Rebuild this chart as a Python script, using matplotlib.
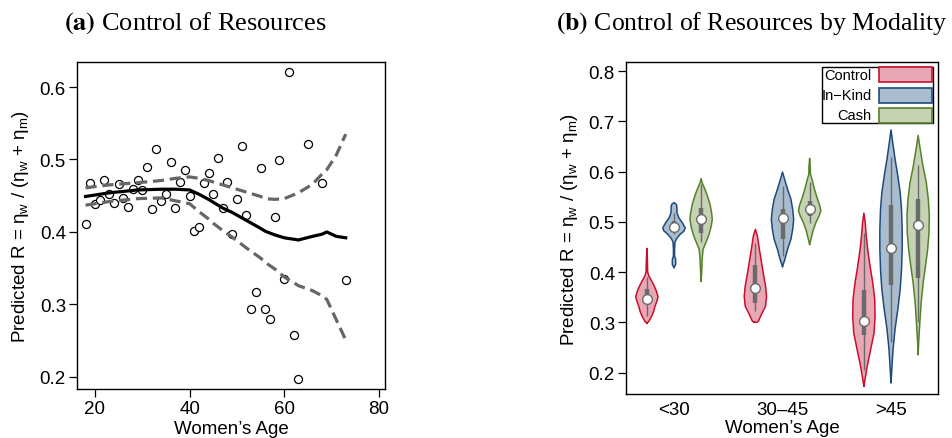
import matplotlib
matplotlib.use("Agg")
import matplotlib.pyplot as plt
from matplotlib.patches import Rectangle
import numpy as np

plt.rcParams['font.family'] = ['Liberation Sans', 'DejaVu Sans']
plt.rcParams['font.size'] = 13.5

# ---- panel (a): scatter of predicted R by women's age ----
ages = [18, 19, 20, 21, 22, 23, 24, 25, 26, 27, 28, 29, 30, 31, 32, 33, 34, 35,
        36, 37, 38, 39, 40, 41, 42, 43, 44, 45, 46, 47, 48, 49, 50, 51, 52, 53,
        54, 55, 56, 57, 58, 59, 60, 61, 62, 63, 65, 68, 73]
pred_r = [0.411, 0.468, 0.439, 0.444, 0.472, 0.453, 0.440, 0.466, 0.447, 0.435,
          0.459, 0.472, 0.458, 0.489, 0.432, 0.514, 0.443, 0.453, 0.497, 0.433,
          0.469, 0.486, 0.450, 0.401, 0.407, 0.468, 0.482, 0.453, 0.502, 0.433,
          0.469, 0.397, 0.445, 0.519, 0.424, 0.294, 0.317, 0.488, 0.294, 0.280,
          0.421, 0.499, 0.335, 0.621, 0.258, 0.197, 0.521, 0.468, 0.334]

# smoothed fit with confidence band
fit_age = [18, 23, 29, 34, 37, 40, 42, 44, 45, 47, 49, 52, 55, 56, 58, 60, 63,
           66, 68, 69, 71, 73]
fit_mid = [0.449, 0.454, 0.458, 0.459, 0.459, 0.458, 0.452, 0.445, 0.441, 0.433,
           0.427, 0.416, 0.405, 0.401, 0.396, 0.392, 0.389, 0.394, 0.397, 0.400,
           0.394, 0.392]
fit_hi = [0.461, 0.465, 0.468, 0.471, 0.474, 0.476, 0.474, 0.471, 0.469, 0.465,
          0.461, 0.455, 0.449, 0.446, 0.445, 0.446, 0.454, 0.466, 0.480, 0.486,
          0.506, 0.535]
fit_lo = [0.437, 0.442, 0.446, 0.447, 0.443, 0.439, 0.428, 0.418, 0.412, 0.402,
          0.393, 0.378, 0.364, 0.358, 0.349, 0.338, 0.326, 0.319, 0.312, 0.307,
          0.279, 0.251]

# ---- panel (b): violins by age group and modality ----
age_groups = ['<30', '30\u201345', '>45']
modalities = ['Control', 'In\u2212Kind', 'Cash']
fill_colors = ['#E8A7B5', '#AABDCE', '#C6D2B4']
edge_colors = ['#C8102E', '#1F4A7D', '#58802C']

# violin outlines: value levels and relative half-widths (one per age group)
control_y = [[0.298, 0.302, 0.312, 0.322, 0.332, 0.343, 0.351, 0.362, 0.372, 0.385, 0.392, 0.400, 0.420, 0.447],
             [0.300, 0.302, 0.316, 0.332, 0.352, 0.372, 0.392, 0.419, 0.445, 0.472, 0.485],
             [0.173, 0.189, 0.213, 0.246, 0.279, 0.312, 0.346, 0.379, 0.412, 0.445, 0.472, 0.498, 0.517]]
control_w = [[0, .18, .43, .61, .73, .91, 1, .85, .66, .36, .18, .07, .05, 0],
             [.12, .27, .55, .91, 1, .91, .75, .55, .36, .18, 0],
             [0, .12, .30, .61, .91, 1, .97, .79, .55, .34, .21, .12, 0]]
inkind_y = [[0.409, 0.415, 0.425, 0.432, 0.445, 0.460, 0.467, 0.475, 0.482, 0.488, 0.498, 0.508, 0.518, 0.532, 0.536, 0.538],
            [0.411, 0.425, 0.445, 0.465, 0.485, 0.505, 0.525, 0.545, 0.565, 0.585, 0.599],
            [0.180, 0.213, 0.246, 0.286, 0.326, 0.365, 0.405, 0.445, 0.485, 0.525, 0.558, 0.591, 0.625, 0.658, 0.683]]
inkind_w = [[0, .15, .15, .05, .05, .09, .25, .55, .91, 1, .75, .43, .27, .25, .15, 0],
            [0, .21, .45, .75, .91, 1, .91, .75, .45, .18, 0],
            [0, .09, .18, .36, .61, .82, .94, 1, 1, .94, .82, .61, .36, .15, 0]]
cash_y = [[0.382, 0.405, 0.425, 0.445, 0.459, 0.475, 0.492, 0.505, 0.518, 0.535, 0.551, 0.565, 0.578, 0.586],
          [0.455, 0.468, 0.482, 0.498, 0.512, 0.522, 0.532, 0.548, 0.565, 0.581, 0.595, 0.610, 0.626],
          [0.236, 0.266, 0.299, 0.339, 0.379, 0.412, 0.445, 0.478, 0.512, 0.545, 0.578, 0.611, 0.645, 0.672]]
cash_w = [[0, .06, .09, .17, .43, .71, .91, 1, .94, .79, .57, .34, .09, 0],
          [0, .15, .30, .55, .85, 1, .91, .66, .43, .25, .07, .06, 0],
          [0, .06, .15, .27, .45, .66, .85, .97, 1, .91, .73, .43, .18, 0]]

# box summaries: quartiles, median, whisker ends
control_q1 = [0.336, 0.339, 0.274]
control_med = [0.347, 0.369, 0.302]
control_q3 = [0.367, 0.413, 0.365]
control_lo = [0.312, 0.323, 0.205]
control_hi = [0.390, 0.458, 0.477]
inkind_q1 = [0.482, 0.465, 0.374]
inkind_med = [0.490, 0.507, 0.448]
inkind_q3 = [0.502, 0.525, 0.533]
inkind_lo = [0.475, 0.432, 0.260]
inkind_hi = [0.518, 0.572, 0.628]
cash_q1 = [0.478, 0.512, 0.389]
cash_med = [0.506, 0.525, 0.493]
cash_q3 = [0.528, 0.541, 0.545]
cash_lo = [0.459, 0.498, 0.300]
cash_hi = [0.576, 0.580, 0.613]

ylab = 'Predicted R = \u03b7$_{\\rm w}$ / (\u03b7$_{\\rm w}$ + \u03b7$_{\\rm m}$)'
plt.rcParams['mathtext.fontset'] = 'custom'
plt.rcParams['mathtext.rm'] = 'Liberation Sans'

fig = plt.figure(figsize=(9.52, 4.39), dpi=100)
ax1 = fig.add_axes([0.0809, 0.1116, 0.3235, 0.7449])
ax2 = fig.add_axes([0.6576, 0.1002, 0.3277, 0.7563])

for ax in (ax1, ax2):
    for s in ax.spines.values():
        s.set_linewidth(1.0)
    ax.tick_params(direction='out', length=6, width=0.9, pad=2)

# panel (a)
ax1.plot(ages, pred_r, 'o', ms=5.8, mfc='white', mec='black', mew=0.9, zorder=2)
ax1.plot(fit_age, fit_hi, color='#666666', lw=2.3, ls=(0, (3.5, 1.8)), zorder=3)
ax1.plot(fit_age, fit_lo, color='#666666', lw=2.3, ls=(0, (3.5, 1.8)), zorder=3)
ax1.plot(fit_age, fit_mid, color='black', lw=2.3, zorder=4)
ax1.set_xlim(16.2, 81.3)
ax1.set_ylim(0.1834, 0.6345)
ax1.set_xticks([20, 40, 60, 80])
ax1.set_yticks([0.2, 0.3, 0.4, 0.5, 0.6])
ax1.set_xlabel('Women\u2019s Age', labelpad=2)
ax1.set_ylabel(ylab, labelpad=6)

# panel (b)
all_y = [control_y, inkind_y, cash_y]
all_w = [control_w, inkind_w, cash_w]
all_q1 = [control_q1, inkind_q1, cash_q1]
all_q3 = [control_q3, inkind_q3, cash_q3]
all_med = [control_med, inkind_med, cash_med]
all_lo = [control_lo, inkind_lo, cash_lo]
all_hi = [control_hi, inkind_hi, cash_hi]
offsets = [-0.25, 0.0, 0.25]
half = 0.103

for m in range(3):
    for g in range(3):
        xc = g + offsets[m]
        y = np.array(all_y[m][g])
        w = np.array(all_w[m][g]) * half
        ax2.fill_betweenx(y, xc - w, xc + w, facecolor=fill_colors[m],
                          edgecolor='none', zorder=2)
        ax2.plot(np.r_[xc - w, (xc + w)[::-1], xc - w[0]],
                 np.r_[y, y[::-1], y[0]], color=edge_colors[m], lw=1.1, zorder=3)
        ax2.vlines(xc, all_lo[m][g], all_hi[m][g], color='#6A6A6A', lw=1.0, zorder=4)
        ax2.vlines(xc, all_q1[m][g], all_q3[m][g], color='#6A6A6A', lw=3.2, zorder=4)
        ax2.plot(xc, all_med[m][g], 'o', ms=7, mfc='white', mec='#6A6A6A', mew=1.0, zorder=5)

ax2.set_xlim(-0.442, 2.433)
ax2.set_ylim(0.1572, 0.818)
ax2.set_xticks([0, 1, 2])
ax2.set_xticklabels(age_groups)
ax2.tick_params(axis='x', length=0, pad=5)
ax2.set_yticks([0.2, 0.3, 0.4, 0.5, 0.6, 0.7, 0.8])
ax2.set_xlabel('Women\u2019s Age', labelpad=1)
ax2.set_ylabel(ylab, labelpad=6)

# legend drawn as a key box (labels right-aligned, swatches on the right)
ax2.add_patch(Rectangle((0.628, 0.816), 0.356, 0.169, transform=ax2.transAxes,
                        facecolor='white', edgecolor='black', lw=1.0, zorder=6))
rows = [0.961, 0.900, 0.840]
for m in range(3):
    ax2.text(0.788, rows[m], modalities[m], transform=ax2.transAxes, ha='right',
             va='center', fontsize=10.5, zorder=7)
    ax2.add_patch(Rectangle((0.811, rows[m] - 0.0225), 0.170, 0.045,
                            transform=ax2.transAxes, facecolor=fill_colors[m],
                            edgecolor=edge_colors[m], lw=1.2, zorder=7))

# subfigure captions
fig.text(0.0672, 0.9317, r'$\mathbf{(a)}$ Control of Resources', ha='left',
         va='baseline', fontsize=19, family='Liberation Serif', math_fontfamily='stix')
fig.text(0.9958, 0.9317, r'$\mathbf{(b)}$ Control of Resources by Modality', ha='right',
         va='baseline', fontsize=18.5, family='Liberation Serif', math_fontfamily='stix')

fig.savefig('out.png', dpi=100)
